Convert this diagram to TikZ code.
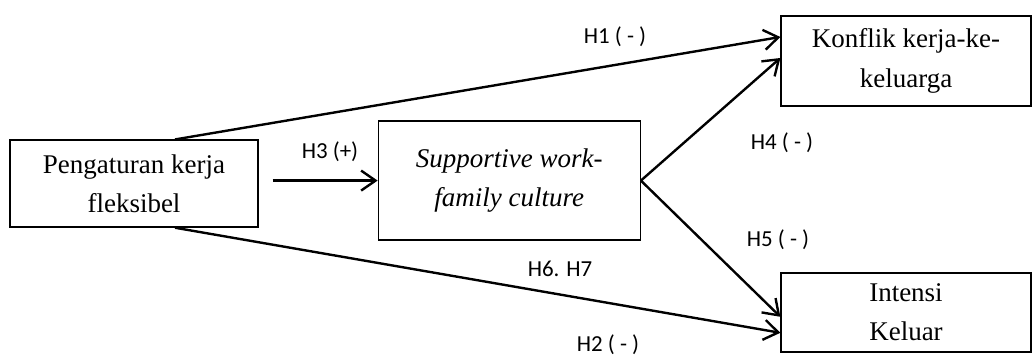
\documentclass[tikz,border=0pt]{standalone}
\usepackage{fontspec}
\setmainfont{Liberation Serif}
\newfontfamily\hlabelfont{Carlito}
\usepackage{tikz}
\usetikzlibrary{arrows.meta, positioning}

\begin{document}
\begin{tikzpicture}[
  box/.style={draw, line width=0.9pt, align=center, font=\fontsize{19.2}{28}\selectfont},
  hyp/.style={font=\hlabelfont\fontsize{16.3}{18}\selectfont},
  thickarrow/.style={-{Straight Barb[length=0.36cm, width=0.5cm]}, line width=1.7pt},
]
\useasboundingbox (0,0) rectangle (25.825,8.9);

% Nodes
\node[box, minimum width=6.2cm, minimum height=2.175cm] (PK) at (3.35,4.31) {Pengaturan kerja\\fleksibel};
\node[box, minimum width=6.55cm, minimum height=2.975cm, right=2.975cm of PK, yshift=0.075cm] (SWFC) {\itshape Supportive work-\\\itshape family culture};
\node[box, minimum width=6.25cm, minimum height=2.25cm] (KKK) at (22.65,7.375) {Konflik kerja-ke-\\keluarga};
\node[box, minimum width=6.25cm, minimum height=1.975cm] (IK) at (22.65,1.09) {Intensi\\Keluar};

% Labels
\node[hyp] (H1) at (15.375,7.975) {H1 ( - )};
\node[hyp] (H3) at (8.25,5.1) {H3 (+)};
\node[hyp] (H4) at (19.55,5.325) {H4 ( - )};
\node[hyp] (H5) at (19.45,2.9) {H5 ( - )};
\node[hyp] (H67) at (14.0,2.175) {H6. H7};
\node[hyp] (H2) at (15.2,0.27) {H2 ( - )};

% Arrows
\draw[thickarrow] ([xshift=1.025cm]PK.north) -- ([yshift=0.6cm]KKK.west);
\draw[thickarrow] ([xshift=1.025cm]PK.south) -- ([yshift=-0.51cm]IK.west);
\draw[thickarrow] ([xshift=0.35cm]PK.east |- SWFC.west) -- (SWFC.west);
\draw[thickarrow] (SWFC.east) -- ([yshift=0.075cm]KKK.west);
\draw[thickarrow] (SWFC.east) -- ([yshift=-0.11cm]IK.west);

\end{tikzpicture}
\end{document}
